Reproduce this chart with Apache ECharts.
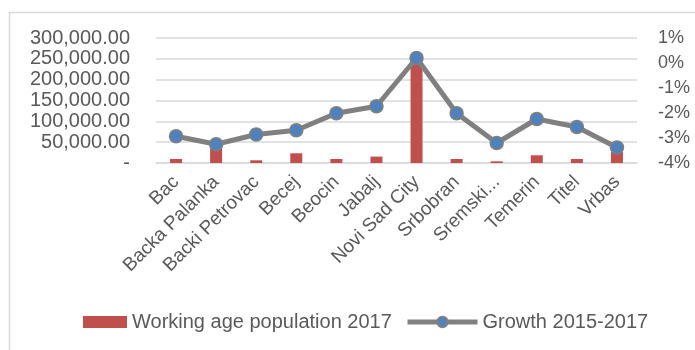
<!DOCTYPE html>
<html>
<head>
<meta charset="utf-8">
<script src="https://cdn.jsdelivr.net/npm/echarts@6/dist/echarts.min.js"></script>
<style>
  html, body { margin: 0; padding: 0; background: #ffffff; }
  #chart { width: 695px; height: 350px; }
</style>
</head>
<body>
<div id="chart"></div>
<script>
// Municipalities of the South Bačka district
const categories = ['Bac', 'Backa Palanka', 'Backi Petrovac', 'Becej', 'Beocin', 'Jabalj',
  'Novi Sad City', 'Srbobran', 'Sremski...', 'Temerin', 'Titel', 'Vrbas'];

// Working age population in 2017 (persons)
const workingAge2017 = [9600, 38500, 6500, 23300, 9600, 15400, 240000, 9600, 4000, 18500, 9600, 26500];

// Population growth 2015-2017 (%)
const growth = [-2.93, -3.25, -2.86, -2.69, -2.01, -1.73, 0.2, -2.01, -3.2, -2.24, -2.56, -3.38];

const leftTicks = { min: 0, max: 300000, interval: 50000 };
const rightTicks = { min: -4, max: 1, interval: 1 };

const textColor = '#595959';
const font = 'Liberation Sans';

const chart = echarts.init(document.getElementById('chart'), null, { renderer: 'canvas' });

chart.setOption({
  animation: false,
  backgroundColor: '#ffffff',
  graphic: [{
    type: 'rect',
    shape: { x: 9.5, y: 12.5, width: 700, height: 360 },
    style: { fill: 'none', stroke: '#d9d9d9', lineWidth: 1.5 },
    silent: true
  }],
  grid: { left: 156, right: 58, top: 38, bottom: 187, containLabel: false },
  legend: [{
    top: 307,
    left: 78,
    itemWidth: 44,
    itemHeight: 12,
    textStyle: { color: textColor, fontSize: 20, fontFamily: font },
    data: [{ name: 'Working age population 2017', icon: 'rect' }]
  }, {
    top: 307,
    left: 400,
    itemWidth: 70,
    itemHeight: 13,
    lineStyle: { width: 5, color: '#808080' },
    textStyle: { color: textColor, fontSize: 20, fontFamily: font },
    data: [{ name: 'Growth 2015-2017' }]
  }],
  xAxis: {
    type: 'category',
    data: categories,
    axisLine: { lineStyle: { color: '#d9d9d9', width: 1.5 } },
    axisTick: { show: false },
    axisLabel: {
      interval: 0,
      rotate: 45,
      margin: 16,
      color: textColor,
      fontSize: 19,
      fontFamily: font
    }
  },
  yAxis: [{
    type: 'value',
    min: leftTicks.min, max: leftTicks.max, interval: leftTicks.interval,
    axisLine: { show: false },
    axisTick: { show: false },
    splitLine: { lineStyle: { color: '#d9d9d9', width: 1.5 } },
    axisLabel: {
      margin: 26,
      color: textColor,
      fontSize: 20,
      fontFamily: font,
      formatter: v => v === 0 ? '-' : v.toLocaleString('en-US', { minimumFractionDigits: 2, maximumFractionDigits: 2 })
    }
  }, {
    type: 'value',
    min: rightTicks.min, max: rightTicks.max, interval: rightTicks.interval,
    axisLine: { show: false },
    axisTick: { show: false },
    splitLine: { show: false },
    axisLabel: {
      margin: 21,
      color: textColor,
      fontSize: 18,
      fontFamily: font,
      formatter: v => v + '%'
    }
  }],
  series: [{
    name: 'Working age population 2017',
    type: 'bar',
    data: workingAge2017,
    barWidth: 12,
    itemStyle: { color: '#c0504d' }
  }, {
    name: 'Growth 2015-2017',
    type: 'line',
    yAxisIndex: 1,
    data: growth,
    symbol: 'circle',
    symbolSize: 13,
    lineStyle: { color: '#808080', width: 5 },
    itemStyle: { color: '#4f81bd', borderColor: '#808080', borderWidth: 1.5 }
  }]
});
</script>
</body>
</html>
